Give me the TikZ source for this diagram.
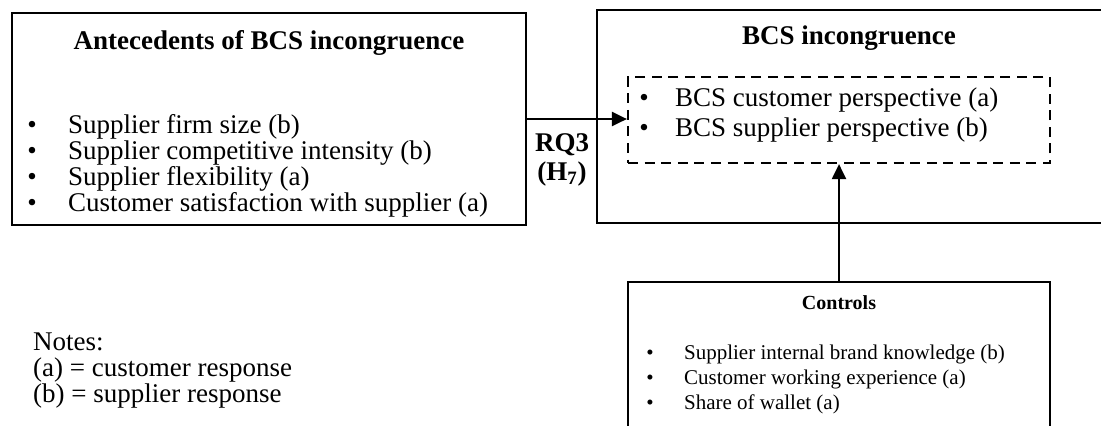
\documentclass[tikz,border=0pt]{standalone}
\usepackage{fontspec}
\setmainfont{Liberation Serif}
\usetikzlibrary{arrows.meta}

\begin{document}
\begin{tikzpicture}[x=0.5pt,y=-0.5pt]
        \tikzstyle{every path}=[line width=1.1pt]

        \tikzstyle{box}=[draw,inner sep=0pt]
        \tikzstyle{dbox}=[draw,dash pattern=on 5pt off 3.3pt,inner sep=0pt]
        \tikzstyle{txt}=[inner sep=0pt,anchor=base west,font=\fontsize{13.5}{16}\selectfont]
        \tikzstyle{bul}=[inner sep=0pt,anchor=base,font=\fontsize{13.5}{16}\selectfont]
        \tikzstyle{head}=[inner sep=0pt,font=\fontsize{13.5}{16}\selectfont\bfseries]
        \tikzstyle{small}=[font=\fontsize{10.5}{12}\selectfont]
        \tikzstyle{arr}=[-{Triangle[length=7.5pt,width=7pt]}]

        \useasboundingbox (0,0) rectangle (1101,425);

        % boxes
        \node[box,minimum width=257pt,minimum height=106pt] (ante) at (269,119) {};
        \node[box,minimum width=266.5pt,minimum height=106.5pt] (incong) at (863.5,116.5) {};
        \node[dbox,minimum width=211pt,minimum height=43pt] (persp) at (839,120) {};
        \node[box,minimum width=211pt,minimum height=89pt] (ctrl) at (839,371) {};

        % headings
        \node[head] (ante_head) at (269,43) {Antecedents of BCS incongruence};
        \node[head] (incong_head) at (849,38) {BCS incongruence};
        \node[head,small,font=\bfseries] (ctrl_head) at (839,303) {Controls};

        \foreach \lbl [count=\i] in {Supplier firm size (b), Supplier competitive intensity (b),
                Supplier flexibility (a), Customer satisfaction with supplier (a)} {
            \node[bul] (ante_b\i) at (32,107+26*\i) {\textbullet};
            \node[txt] (ante_t\i) at (67,107+26*\i) {\lbl};
        };
        \foreach \lbl [count=\i] in {BCS customer perspective (a), BCS supplier perspective (b)} {
            \node[bul] (persp_b\i) at (644,76+30*\i) {\textbullet};
            \node[txt] (persp_t\i) at (674,76+30*\i) {\lbl};
        };
        \foreach \lbl [count=\i] in {Supplier internal brand knowledge (b), Customer working experience (a),
                Share of wallet (a)} {
            \node[bul,small] (ctrl_b\i) at (650,334+25*\i) {\textbullet};
            \node[txt,small] (ctrl_t\i) at (683,334+25*\i) {\lbl};
        };

        \node[head,align=center,font=\fontsize{13.5}{14.5}\selectfont\bfseries] (rq) at (562,160) {RQ3\\(H\textsubscript{7})};

        \node[txt] (notes_0) at (32,350) {Notes:};
        \node[txt] (notes_a) at (32,376) {(a) = customer response};
        \node[txt] (notes_b) at (32,402) {(b) = supplier response};

        \draw[arr] (ante.east) -- (ante.east -| persp.west);  % RQ3
        \draw[arr] (ctrl.north) -- (persp.south);             % controls
\end{tikzpicture}
\end{document}
